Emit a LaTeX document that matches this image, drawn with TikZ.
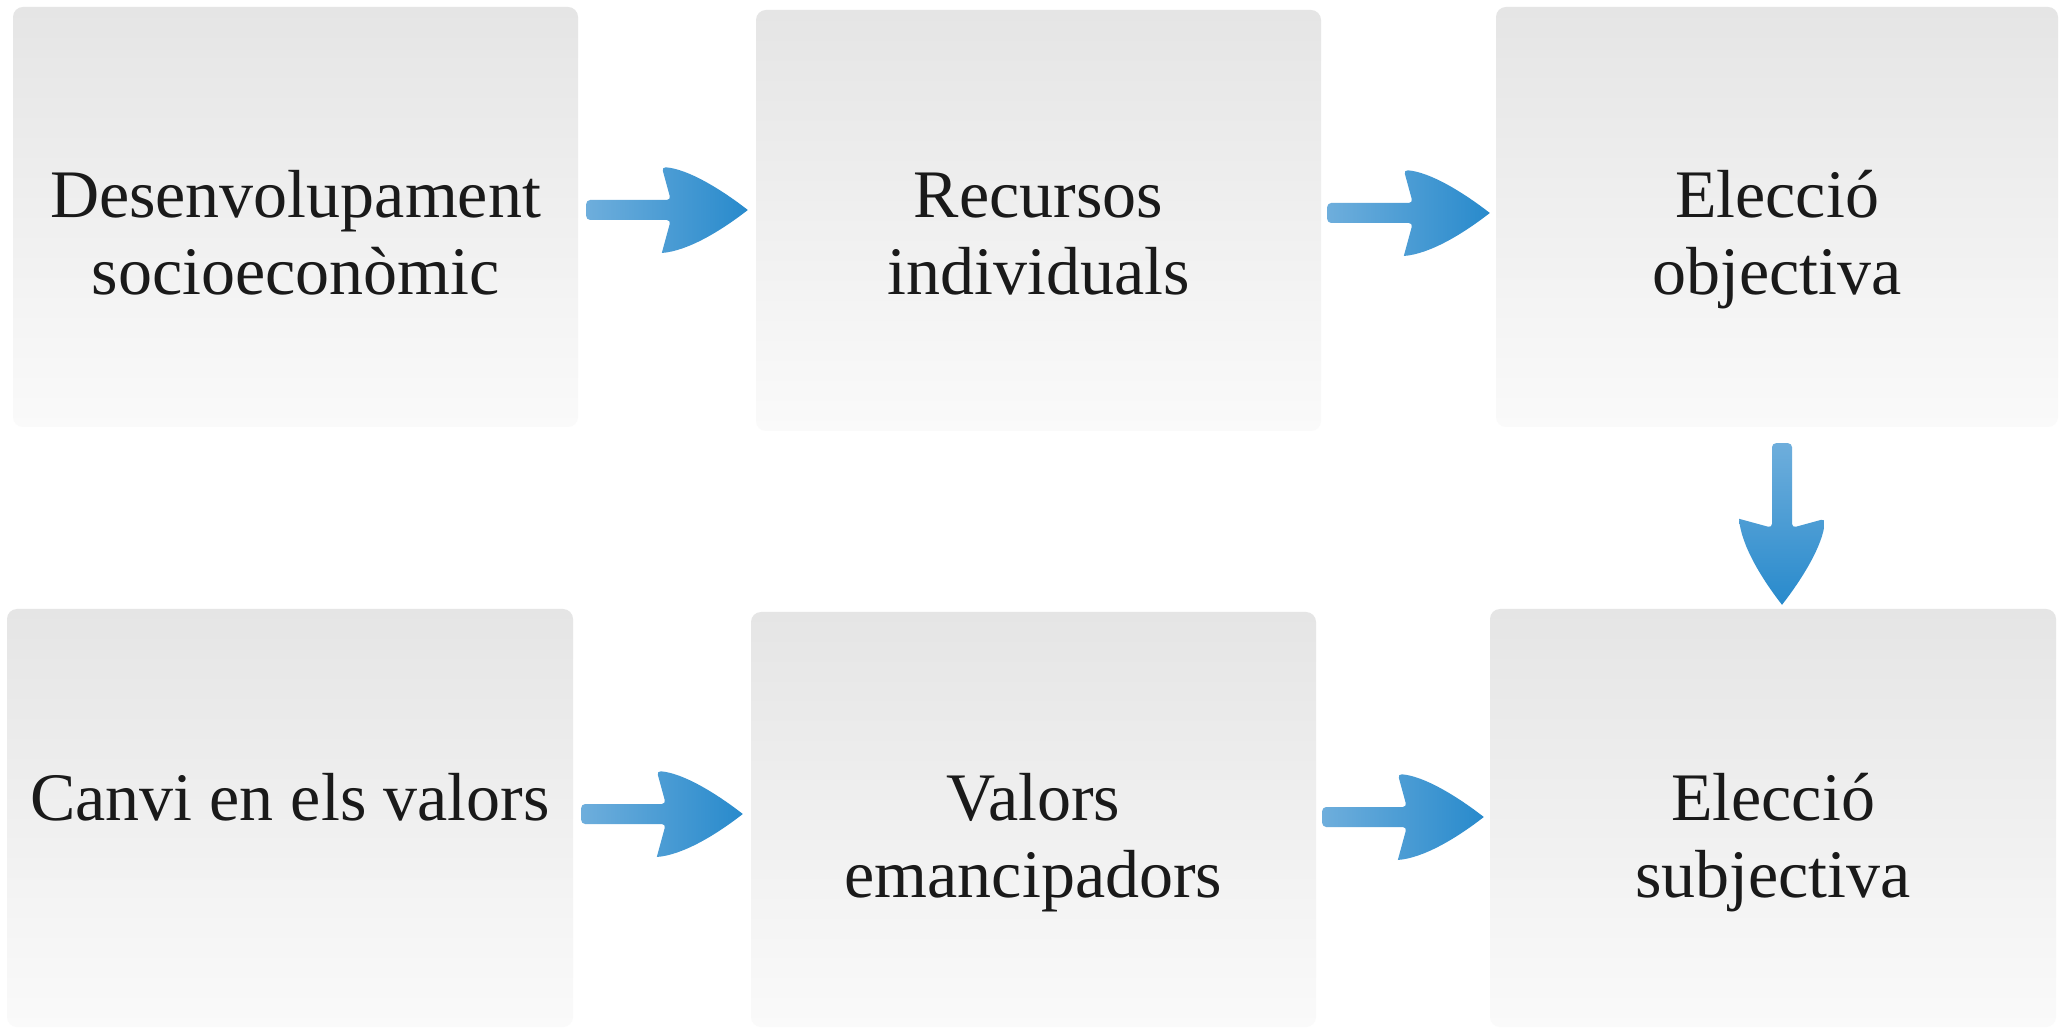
\documentclass[tikz,border=0pt]{standalone}
\usepackage{fontspec}
\setmainfont{Liberation Serif}
\usetikzlibrary{calc}
\definecolor{boxTop}{RGB}{229,229,229}
\definecolor{boxBot}{RGB}{250,250,250}
\definecolor{arrL}{RGB}{110,174,220}
\definecolor{arrR}{RGB}{40,138,204}
\definecolor{txt}{RGB}{26,26,26}
\tikzset{
  stagebox/.style={rectangle, rounded corners=10pt, top color=boxTop, bottom color=boxBot,
    draw=none, minimum width=565pt, inner sep=0pt},
  lbl/.style={anchor=base, inner sep=0pt, text=txt, font=\fontsize{68}{77}\selectfont},
  harrow/.style={left color=arrL, right color=arrR},
  varrow/.style={top color=arrL, bottom color=arrR},
}
% #1 start, #2 end, #3 style
\newcommand\flowarrow[3]{%
  \path[#3] let \p1=(#1), \p2=(#2),
    \n1={veclen(\x2-\x1,\y2-\y1)}, \n2={atan2(\y2-\y1,\x2-\x1)} in
    [shift={(\p1)}, rotate=\n2]
    (0,0) [rounded corners=4pt] -- (0,10) -- ({\n1-77},10) -- ({\n1-86},43)
    [sharp corners] .. controls ({\n1-60},41) and ({\n1-27},21) .. (\n1,0)
    .. controls ({\n1-27},-21) and ({\n1-60},-41) .. ({\n1-86},-43)
    [rounded corners=4pt] -- ({\n1-77},-10) -- (0,-10) -- cycle;
}
\newcommand\twolines[2]{\begin{tabular}[t]{@{}c@{}}#1\\#2\end{tabular}}
\begin{document}
\begin{tikzpicture}[x=1pt,y=1pt]
\useasboundingbox (0,0) rectangle (2061,1029);
\fill[white] (0,0) rectangle (2061,1029);

% boxes
\node[stagebox, minimum height=420pt] (b1) at (295.5,812) {};
\node[stagebox, minimum height=421pt] (b2) at (1038.5,808.5) {};
\node[stagebox, minimum height=420pt, minimum width=562pt] (b3) at (1777,812) {};
\node[stagebox, minimum height=418pt, minimum width=566pt] (b4) at (290,211) {};
\node[stagebox, minimum height=415pt] (b5) at (1033.5,209.5) {};
\node[stagebox, minimum height=418pt, minimum width=566pt] (b6) at (1773,211) {};

% baselines
\coordinate (topbase) at (0,811);
\coordinate (botbase) at (0,209);

% labels
\node[lbl] (t1) at (b1 |- topbase) {\twolines{Desenvolupament}{socioeconòmic}};
\node[lbl] (t2) at (b2 |- topbase) {\twolines{Recursos}{individuals}};
\node[lbl] (t3) at (b3 |- topbase) {\twolines{Elecció}{objectiva}};
\node[lbl] (t4) at (b4 |- botbase) {Canvi en els valors};
\node[lbl] (t5) at (b5 |- botbase) {\twolines{Valors}{emancipadors}};
\node[lbl] (t6) at (b6 |- botbase) {\twolines{Elecció}{subjectiva}};

% arrow end points
\coordinate (s1) at ($(b1.east)+(8,7)$);
\coordinate (e1) at ($(b2.west|-s1)+(-8,0)$);
\coordinate (s2) at ($(b2.east)+(6,7.5)$);
\coordinate (e2) at ($(b3.west|-s2)+(-6,0)$);
\coordinate (s3) at ($(b3.south)+(5,-16)$);
\coordinate (e3) at ($(s3|-b6.north)+(0,4)$);
\coordinate (s4) at ($(b4.east)+(8,4)$);
\coordinate (e4) at ($(b5.west|-s4)+(-8,0)$);
\coordinate (s5) at ($(b5.east)+(6,2.5)$);
\coordinate (e5) at ($(b6.west|-s5)+(-6,0)$);

\flowarrow{s1}{e1}{harrow}
\flowarrow{s2}{e2}{harrow}
\flowarrow{s3}{e3}{varrow}
\flowarrow{s4}{e4}{harrow}
\flowarrow{s5}{e5}{harrow}
\end{tikzpicture}
\end{document}
